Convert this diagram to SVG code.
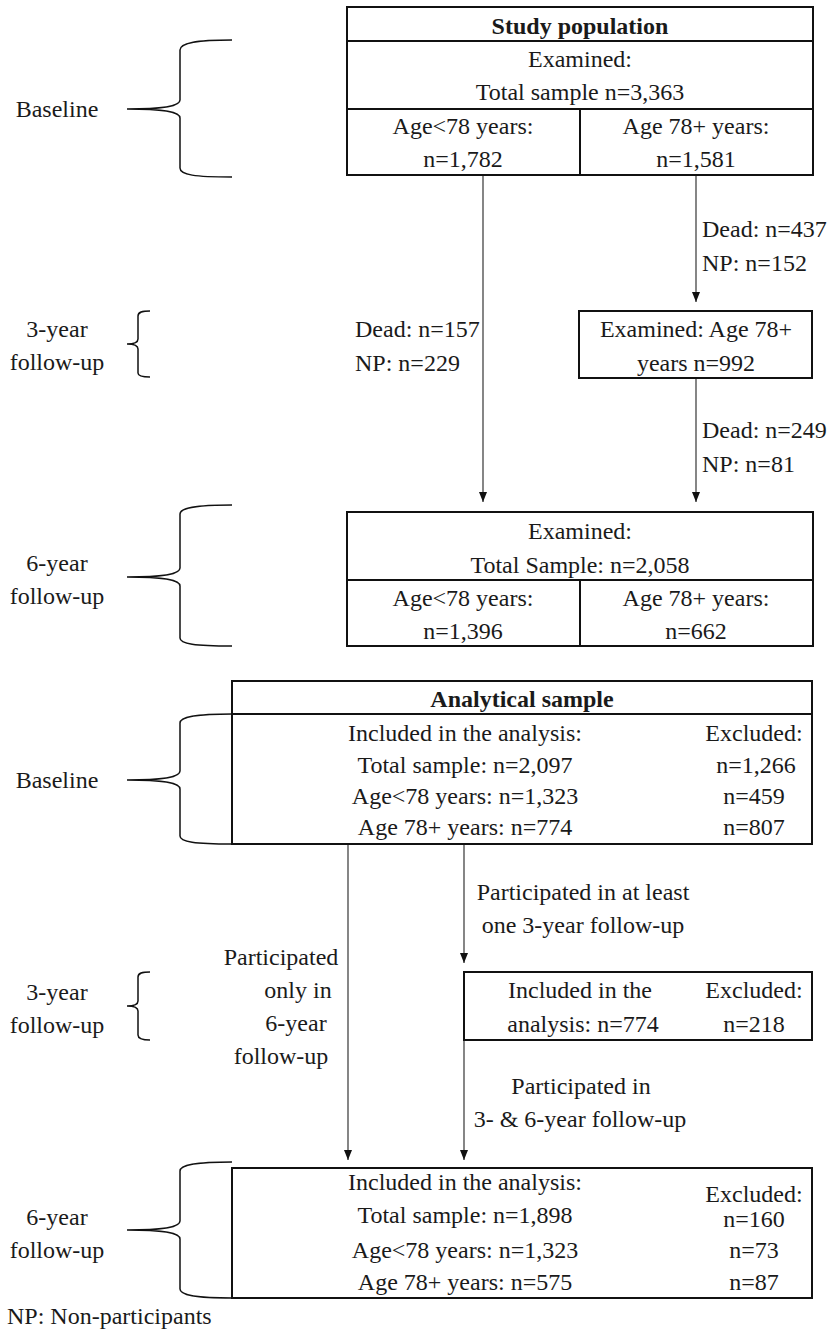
<svg xmlns="http://www.w3.org/2000/svg" width="832" height="1330" viewBox="0 0 832 1330">
<style>
text{font-family:"Liberation Serif","Times New Roman",serif;font-size:24px;fill:#1a1a1a}
.c{text-anchor:middle}
.e{text-anchor:end}
.b{font-weight:bold}
.box{fill:#fff;stroke:#111;stroke-width:2}
.sep{stroke:#111;stroke-width:2;fill:none}
.arr{stroke:#444;stroke-width:1.3;fill:none;marker-end:url(#ah)}
.brace{stroke:#111;stroke-width:1.5;fill:none}
</style>
<defs>
<marker id="ah" viewBox="0 0 10 10" markerUnits="userSpaceOnUse" markerWidth="10" markerHeight="8" refX="10" refY="5" orient="auto" preserveAspectRatio="none">
<path d="M0,0 L10,5 L0,10 z" fill="#111"/>
</marker>
</defs>
<g id="connectors">
<line class="arr" x1="483" y1="175" x2="483" y2="502"/>
<line class="arr" x1="696" y1="175" x2="696" y2="302"/>
<line class="arr" x1="696" y1="378" x2="696" y2="502"/>
<line class="arr" x1="348" y1="844" x2="348" y2="1160"/>
<line class="arr" x1="464" y1="844" x2="464" y2="963"/>
<line class="arr" x1="464" y1="1040" x2="464" y2="1160"/>
</g>
<g id="braces">
<path class="brace" d="M232,40 C195,40 180,43 180,50 L180,100 C180,106 165,109 127,109 C165,109 180,112 180,118 L180,168 C180,175 195,177 232,177"/>
<path class="brace" d="M150,311 C142,311 138,312 138,316 L138,339 C138,342 134,344 127,344 C134,344 138,346 138,349 L138,373 C138,376 142,377 150,377"/>
<path class="brace" d="M232,505 C195,505 180,508 180,514 L180,568 C180,574 165,577 127,577 C165,577 180,580 180,586 L180,638 C180,644 195,646 232,646"/>
<path class="brace" d="M232,714 C195,714 180,717 180,723 L180,771 C180,777 165,780 127,780 C165,780 180,783 180,789 L180,836 C180,842 195,844 232,844"/>
<path class="brace" d="M150,972 C142,972 138,973 138,977 L138,1001 C138,1004 134,1006 127,1006 C134,1006 138,1008 138,1011 L138,1035 C138,1038 142,1040 150,1040"/>
<path class="brace" d="M232,1162 C195,1162 180,1165 180,1171 L180,1221 C180,1227 165,1230 127,1230 C165,1230 180,1233 180,1239 L180,1289 C180,1295 195,1298 232,1298"/>
</g>
<g id="labels">
<text class="c" x="57" y="117">Baseline</text>
<text class="c" x="57" y="337">3-year</text>
<text class="c" x="57" y="370">follow-up</text>
<text class="c" x="57" y="571">6-year</text>
<text class="c" x="57" y="604">follow-up</text>
<text class="c" x="57" y="788">Baseline</text>
<text class="c" x="57" y="1000">3-year</text>
<text class="c" x="57" y="1033">follow-up</text>
<text class="c" x="57" y="1225">6-year</text>
<text class="c" x="57" y="1258">follow-up</text>
<text x="7" y="1324">NP: Non-participants</text>
</g>
<g id="edge-labels">
<text x="702" y="237">Dead: n=437</text>
<text x="702" y="271">NP: n=152</text>
<text x="355" y="337">Dead: n=157</text>
<text x="355" y="371">NP: n=229</text>
<text x="702" y="438">Dead: n=249</text>
<text x="702" y="472">NP: n=81</text>
<text class="c" x="583" y="900">Participated in at least</text>
<text class="c" x="583" y="933">one 3-year follow-up</text>
<text class="c" x="281" y="965">Participated</text>
<text class="c" x="298" y="998">only in</text>
<text class="c" x="296" y="1031">6-year</text>
<text class="c" x="281" y="1064">follow-up</text>
<text class="c" x="581" y="1094">Participated in</text>
<text class="c" x="580" y="1127">3- &amp; 6-year follow-up</text>
</g>
<g id="study-population">
<rect class="box" x="347" y="7" width="466" height="168"/>
<line class="sep" x1="347" y1="41" x2="813" y2="41"/>
<line class="sep" x1="347" y1="109" x2="813" y2="109"/>
<line class="sep" x1="580" y1="109" x2="580" y2="175"/>
<text class="c b" x="580" y="34">Study population</text>
<text class="c" x="580" y="67">Examined:</text>
<text class="c" x="580" y="100">Total sample n=3,363</text>
<text class="c" x="463" y="134">Age&lt;78 years:</text>
<text class="c" x="463" y="167">n=1,782</text>
<text class="c" x="696" y="134">Age 78+ years:</text>
<text class="c" x="696" y="167">n=1,581</text>
</g>
<g id="examined-3yr">
<rect class="box" x="579" y="311" width="233" height="67"/>
<text class="c" x="696" y="337">Examined: Age 78+</text>
<text class="c" x="696" y="371">years n=992</text>
</g>
<g id="examined-6yr">
<rect class="box" x="347" y="512" width="466" height="134"/>
<line class="sep" x1="347" y1="580" x2="813" y2="580"/>
<line class="sep" x1="580" y1="580" x2="580" y2="646"/>
<text class="c" x="580" y="539">Examined:</text>
<text class="c" x="580" y="573">Total Sample: n=2,058</text>
<text class="c" x="463" y="606">Age&lt;78 years:</text>
<text class="c" x="463" y="639">n=1,396</text>
<text class="c" x="696" y="606">Age 78+ years:</text>
<text class="c" x="696" y="639">n=662</text>
</g>
<g id="analytical-baseline">
<rect class="box" x="232" y="681" width="580" height="163"/>
<line class="sep" x1="232" y1="714" x2="812" y2="714"/>
<text class="c b" x="522" y="707">Analytical sample</text>
<text class="c" x="465" y="741">Included in the analysis:</text>
<text class="c" x="754" y="741">Excluded:</text>
<text class="c" x="465" y="773">Total sample: n=2,097</text>
<text class="c" x="756" y="773">n=1,266</text>
<text class="c" x="465" y="804">Age&lt;78 years: n=1,323</text>
<text class="c" x="754" y="804">n=459</text>
<text class="c" x="465" y="835">Age 78+ years: n=774</text>
<text class="c" x="754" y="835">n=807</text>
</g>
<g id="analytical-3yr">
<rect class="box" x="464" y="972" width="348" height="68"/>
<text class="c" x="580" y="998">Included in the</text>
<text class="c" x="583" y="1032">analysis: n=774</text>
<text class="c" x="754" y="998">Excluded:</text>
<text class="c" x="754" y="1032">n=218</text>
</g>
<g id="analytical-6yr">
<rect class="box" x="232" y="1168" width="580" height="130"/>
<text class="c" x="465" y="1190">Included in the analysis:</text>
<text class="c" x="754" y="1202">Excluded:</text>
<text class="c" x="465" y="1223">Total sample: n=1,898</text>
<text class="c" x="754" y="1227">n=160</text>
<text class="c" x="465" y="1258">Age&lt;78 years: n=1,323</text>
<text class="c" x="754" y="1258">n=73</text>
<text class="c" x="465" y="1290">Age 78+ years: n=575</text>
<text class="c" x="754" y="1290">n=87</text>
</g>
</svg>
